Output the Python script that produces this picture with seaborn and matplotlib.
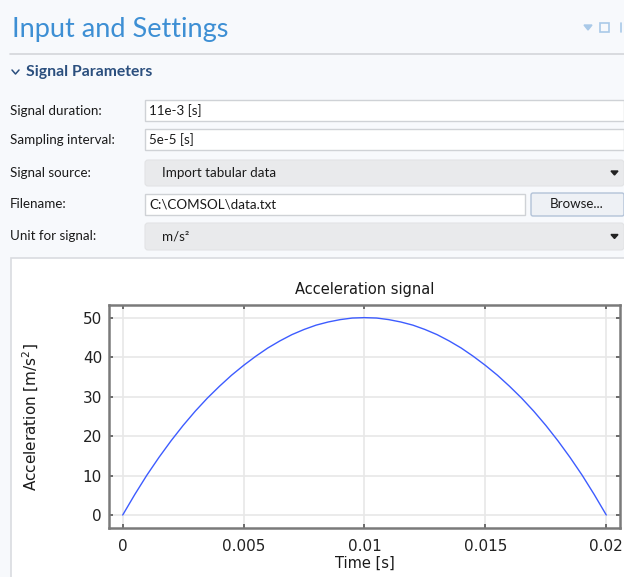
import numpy as np
import pandas as pd
import seaborn as sns
import matplotlib
matplotlib.use("Agg")
import matplotlib.pyplot as plt
from matplotlib.patches import Rectangle, FancyBboxPatch, Polygon

# ---- data ----
time_s = [0.0, 0.0005, 0.001, 0.0015, 0.002, 0.0025, 0.003, 0.0035, 0.004, 0.0045,
          0.005, 0.0055, 0.006, 0.0065, 0.007, 0.0075, 0.008, 0.0085, 0.009, 0.0095,
          0.01, 0.0105, 0.011, 0.0115, 0.012, 0.0125, 0.013, 0.0135, 0.014, 0.0145,
          0.015, 0.0155, 0.016, 0.0165, 0.017, 0.0175, 0.018, 0.0185, 0.019, 0.0195, 0.02]
accel = [0.0, 5.2, 10.1, 14.6, 18.8, 22.7, 26.3, 29.6, 32.6, 35.4,
         37.9, 40.2, 42.3, 44.1, 45.7, 47.0, 48.1, 48.9, 49.5, 49.9,
         50.0, 49.9, 49.5, 48.9, 48.1, 47.0, 45.7, 44.1, 42.3, 40.2,
         37.9, 35.4, 32.6, 29.6, 26.3, 22.7, 18.8, 14.6, 10.1, 5.2, 0.0]
x_ticks = [0, 0.005, 0.01, 0.015, 0.02]
x_tick_labels = ["0", "0.005", "0.01", "0.015", "0.02"]
y_ticks = [0, 10, 20, 30, 40, 50]

field_labels = ["Signal duration:", "Sampling interval:", "Signal source:", "Filename:", "Unit for signal:"]
field_values = ["11e-3 [s]", "5e-5 [s]", "Import tabular data", "C:\\COMSOL\\data.txt", "m/s\u00b2"]

sns.set_theme(style="white")
plt.rcParams['font.family'] = ['Lato', 'DejaVu Sans']

W, H = 624, 577
fig = plt.figure(figsize=(W / 100, H / 100), dpi=100)
fig.patch.set_facecolor("#f7f9fc")

# overlay axes in pixel coords
ov = fig.add_axes([0, 0, 1, 1])
ov.set_xlim(0, W)
ov.set_ylim(H, 0)
ov.axis("off")
ov.set_zorder(0)

UI = 9.6
# header
ov.text(12, 30, "Input and Settings", fontsize=19.5, color="#3d8fd4", va="center", ha="left",
        fontweight="normal")
ov.add_patch(Polygon([[584, 25], [592, 25], [588, 30]], closed=True, color="#a9c9e8"))
ov.add_patch(Rectangle((600, 23), 9, 9, fill=False, edgecolor="#a9c9e8", lw=1.2))
ov.plot([621, 621], [23, 32], color="#a9c9e8", lw=1.2)
ov.plot([10, W], [54, 54], color="#d3d6da", lw=1.2)

# section header
ov.plot([12, 15.5, 19], [70, 74, 70], color="#2b4f7e", lw=1.1)
ov.text(26, 72, "Signal Parameters", fontsize=11.3, color="#2b4f7e", va="center", ha="left",
        fontweight="bold")

rows_y = [111, 140, 173, 204, 236]
for lab, yy in zip(field_labels, rows_y):
    ov.text(10, yy, lab, fontsize=UI, color="#1a1a1a", va="center", ha="left")

# text fields
def textbox(x0, x1, y0, y1, txt):
    ov.add_patch(Rectangle((x0, y0), x1 - x0, y1 - y0, facecolor="white",
                           edgecolor="#cfd2d6", lw=1))
    ov.text(x0 + 4, (y0 + y1) / 2, txt, fontsize=UI, color="#1a1a1a", va="center", ha="left")

def dropdown(x0, x1, y0, y1, txt):
    ov.add_patch(FancyBboxPatch((x0, y0), x1 - x0, y1 - y0,
                                boxstyle="round,pad=0,rounding_size=3",
                                facecolor="#e9eaec", edgecolor="#e2e3e5", lw=0.8))
    ov.text(x0 + 17, (y0 + y1) / 2, txt, fontsize=UI, color="#1a1a1a", va="center", ha="left")
    cy = (y0 + y1) / 2
    ov.add_patch(Polygon([[611, cy - 2], [618, cy - 2], [614.5, cy + 2]], closed=True, color="#222222"))

textbox(145, 624, 100, 121, field_values[0])
textbox(145, 624, 129, 150, field_values[1])
dropdown(145, 624, 160, 186, field_values[2])
textbox(145, 525, 194, 215, field_values[3])
ov.add_patch(FancyBboxPatch((531, 193), 93, 23, boxstyle="round,pad=0,rounding_size=2",
                            facecolor="#eef1f5", edgecolor="#b3c3d8", lw=1))
ov.text(577, 204.5, "Browse...", fontsize=UI, color="#1a1a1a", va="center", ha="center")
dropdown(145, 624, 223, 250, field_values[4])

# chart panel
ov.add_patch(Rectangle((10.5, 258), W, H, facecolor="white", edgecolor="#d9dce0", lw=1.2))

# chart axes
ax_l, ax_r, ax_t, ax_b = 109, 620.3, 305, 528.3
ax = fig.add_axes([ax_l / W, (H - ax_b) / H, (ax_r - ax_l) / W, (ax_b - ax_t) / H])
ax.set_zorder(1)
ax.set_facecolor("white")

df = pd.DataFrame({"Time": time_s, "Acceleration": accel})
sns.lineplot(data=df, x="Time", y="Acceleration", ax=ax, color="#3d5cff", linewidth=1.0)

ax.set_xlim(-0.000567, 0.02058)
ax.set_ylim(-3.37, 53.2)
ax.set_xticks(x_ticks)
ax.set_xticklabels(x_tick_labels)
ax.set_yticks(y_ticks)
ax.grid(True, color="#e8e8e8", lw=1.2)
ax.set_axisbelow(True)
for s in ax.spines.values():
    s.set_color("#7a7a7a")
    s.set_linewidth(1.8)
ax.tick_params(axis="both", direction="in", length=3, width=1.2, color="#555555",
               labelsize=11, labelcolor="#222222", top=True, right=True,
               bottom=True, left=True)
ax.tick_params(axis="x", pad=8)
ax.tick_params(axis="y", pad=5)
for lbl in ax.get_xticklabels() + ax.get_yticklabels():
    lbl.set_family("DejaVu Sans")
ax.set_title("Acceleration signal", fontsize=10.5, color="#1a1a1a", pad=8, family="DejaVu Sans")
ax.set_xlabel("Time [s]", fontsize=10.5, color="#1a1a1a", family="DejaVu Sans", labelpad=1)
ax.set_ylabel("Acceleration [m/s$^2$]", fontsize=11, color="#1a1a1a", family="DejaVu Sans",
              labelpad=30)

fig.savefig("out.png", dpi=100, facecolor=fig.get_facecolor())
